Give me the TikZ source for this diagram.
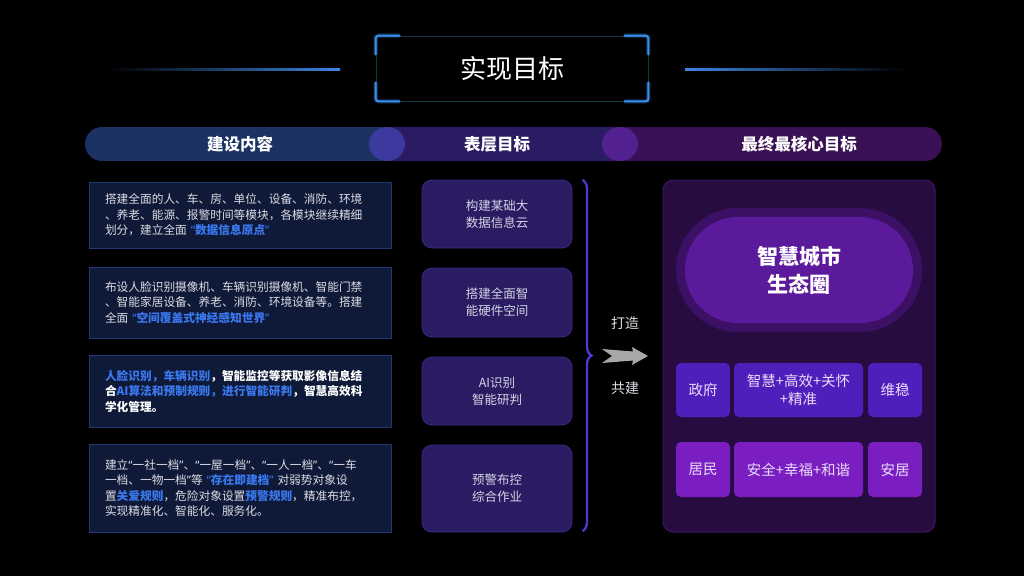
\documentclass[tikz,border=0pt]{standalone}
\usepackage{fontspec}
\setmainfont{Noto Sans CJK SC}
\newfontfamily\latinq{Noto Sans}
\usetikzlibrary{decorations.pathreplacing}
\definecolor{titleblue}{HTML}{3A90F0}
\definecolor{titleborder}{HTML}{143840}
\definecolor{lineblue}{HTML}{3C86E0}
\definecolor{secA}{HTML}{1B3263}
\definecolor{secB}{HTML}{2B1B63}
\definecolor{secC}{HTML}{3B1156}
\definecolor{circA}{HTML}{3C3A9E}
\definecolor{circB}{HTML}{53208F}
\definecolor{lfill}{HTML}{0F1A38}
\definecolor{lborder}{HTML}{1F3A72}
\definecolor{ltext}{HTML}{DCDCE4}
\definecolor{hlblue}{HTML}{3A78F0}
\definecolor{mfill}{HTML}{2B1B63}
\definecolor{mborder}{HTML}{3B2A88}
\definecolor{mtext}{HTML}{D4D4E4}
\definecolor{bracecol}{HTML}{5535D5}
\definecolor{arrowgray}{HTML}{A8A8A8}
\definecolor{pfill}{HTML}{260C40}
\definecolor{pborder}{HTML}{3A1860}
\definecolor{outerpill}{HTML}{3C1165}
\definecolor{innerpill}{HTML}{5B1A9C}
\definecolor{rowA}{HTML}{4F1FBB}
\definecolor{rowB}{HTML}{7A1EC2}
\definecolor{rtext}{HTML}{EADCF8}
\newcommand\hl[1]{{\bfseries\color{hlblue}#1}}
\newcommand\oq{{\latinq “}}
\newcommand\cq{{\latinq ”}}
\begin{document}
\begin{tikzpicture}[x=1pt,y=-1pt,
  corner/.style={titleblue, line width=2pt, rounded corners=3pt, line cap=round},
  cornerglow/.style={titleblue, line width=4.5pt, opacity=0.25, rounded corners=3pt},
  headtext/.style={text=white, font=\fontsize{16.5}{18}\selectfont\bfseries},
  lbox/.style={draw=lborder, line width=1pt, fill=lfill, text width=270pt, inner xsep=16pt, inner ysep=0pt, align=left, text=ltext, font=\fontsize{11.7}{15.5}\selectfont},
  mbox/.style={draw=mborder, line width=0.8pt, fill=mfill, rounded corners=10pt, minimum width=150pt, align=center, text=mtext, font=\fontsize{12.5}{17}\selectfont},
  sidetext/.style={text=ltext, font=\fontsize{14}{16}\selectfont},
  rbox/.style={rounded corners=5pt, align=center, text=rtext, font=\fontsize{14.5}{18}\selectfont, inner sep=0pt}
]
\useasboundingbox (0,0) rectangle (1024,576);
\fill[black] (0,0) rectangle (1024,576);

% title
\shade[left color=black, right color=lineblue] (107,68) rectangle (340,70.2);
\shade[left color=lineblue, right color=black] (685,68) rectangle (905,70.2);
\node[draw=titleborder, line width=0.8pt, minimum width=272pt, minimum height=65pt, text=white, font=\fontsize{26}{28}\selectfont] (title) at (512,68.5) {实现目标};
\foreach \c/\dx/\dy in {north west/1/1, north east/-1/1, south west/1/-1, south east/-1/-1}{
  \draw[cornerglow] ([xshift=\dx*24pt]title.\c) -- (title.\c) -- ([yshift=-\dy*19pt]title.\c);
  \draw[corner] ([xshift=\dx*24pt]title.\c) -- (title.\c) -- ([yshift=-\dy*19pt]title.\c);
}

% header bar
\begin{scope}
\clip[rounded corners=17pt] (85,127) rectangle (942,161);
\fill[secA] (85,127) rectangle (387,161);
\fill[secB] (387,127) rectangle (620,161);
\fill[secC] (620,127) rectangle (942,161);
\fill[circA] (387,144) ellipse [x radius=18pt, y radius=17pt];
\fill[circB] (620,144) ellipse [x radius=18pt, y radius=17pt];
\end{scope}
\node[headtext] (h1) at (240,144) {建设内容};
\node[headtext] (h2) at (497,144) {表层目标};
\node[headtext] (h3) at (799,144) {最终最核心目标};

% left boxes
\node[lbox, minimum height=66pt] (l1) at (240,215) {搭建全面的人、车、房、单位、设备、消防、环境\\、养老、能源、报警时间等模块，各模块继续精细\\划分，建立全面 \hl{\oq 数据信息原点\cq}};
\node[lbox, minimum height=71pt] (l2) at (240,302.5) {布设人脸识别摄像机、车辆识别摄像机、智能门禁\\、智能家居设备、养老、消防、环境设备等。搭建\\全面 \hl{\oq 空间覆盖式神经感知世界\cq}};
\node[lbox, minimum height=72pt, text=white, font=\fontsize{11.7}{15.5}\selectfont\bfseries] (l3) at (240,391) {\hl{人脸识别，车辆识别}，智能监控等获取影像信息结\\合\hl{AI算法和预制规则，进行智能研判}，智慧高效科\\学化管理。};
\node[lbox, minimum height=88pt] (l4) at (240,488) {建立\oq 一社一档\cq 、\oq 一屋一档\cq 、\oq 一人一档\cq 、\oq 一车\\一档、一物一档\cq 等 \hl{\oq 存在即建档\cq} 对弱势对象设\\置\hl{关爱规则}，危险对象设置\hl{预警规则}，精准布控，\\实现精准化、智能化、服务化。};

% middle boxes
\node[mbox, minimum height=68pt] (m1) at (497,214) {构建某础大\\数据信息云};
\node[mbox, minimum height=69pt] (m2) at (497,302.5) {搭建全面智\\能硬件空间};
\node[mbox, minimum height=68pt] (m3) at (497,391) {AI识别\\智能研判};
\node[mbox, minimum height=87pt] (m4) at (497,488.5) {预警布控\\综合作业};

% brace
\coordinate (bt) at (582.5,180);
\coordinate (bb) at (582.5,531);
\draw[bracecol, line width=2.3pt, decorate, decoration={brace, amplitude=9pt, aspect=0.5}] (bt) -- (bb);

% arrow
\node[sidetext] (t1) at (625,323) {打造};
\node[sidetext] (t2) at (625,388) {共建};
\coordinate (ar) at (602,356);
\fill[arrowgray] (ar) ++(0,-7) -- ++(31,2.5) -- ++(-1,-4.5) -- (648,356) -- (632,365) -- ++(1,-4.5) -- (602,363) -- (612,356) -- cycle;

% right panel
\node[draw=pborder, line width=1pt, fill=pfill, rounded corners=10pt, minimum width=272pt, minimum height=352pt] (panel) at (799,356) {};
\node[fill=outerpill, rounded corners=62pt, minimum width=246pt, minimum height=124pt] (op) at (799,270) {};
\node[fill=innerpill, rounded corners=53pt, minimum width=228pt, minimum height=106pt, align=center, text=white, font=\fontsize{21}{28}\selectfont\bfseries] (ip) at (799,270) {智慧城市\\生态圈};

\node[rbox, fill=rowA, minimum width=54pt, minimum height=54pt] (r1a) at (703,390) {政府};
\node[rbox, fill=rowA, minimum width=129pt, minimum height=54pt] (r1b) at (798.5,390) {智慧+高效+关怀\\+精准};
\node[rbox, fill=rowA, minimum width=54pt, minimum height=54pt] (r1c) at (895,390) {维稳};
\node[rbox, fill=rowB, minimum width=54pt, minimum height=55pt] (r2a) at (703,469.5) {居民};
\node[rbox, fill=rowB, minimum width=129pt, minimum height=55pt] (r2b) at (798.5,469.5) {安全+幸福+和谐};
\node[rbox, fill=rowB, minimum width=54pt, minimum height=55pt] (r2c) at (895,469.5) {安居};
\end{tikzpicture}
\end{document}
